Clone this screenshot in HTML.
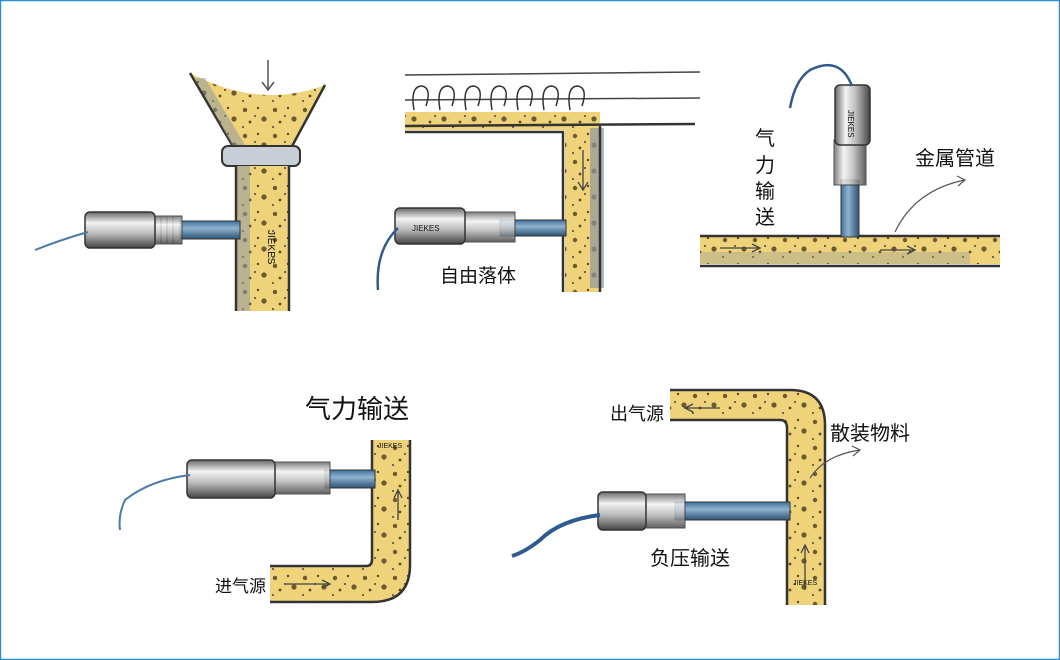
<!DOCTYPE html>
<html><head><meta charset="utf-8"><style>
html,body{margin:0;padding:0;background:#fff}
svg{display:block}
text{font-family:"Liberation Sans","Noto Sans CJK SC",sans-serif;fill:#111}
</style></head><body>
<svg width="1060" height="660" viewBox="0 0 1060 660" xmlns="http://www.w3.org/2000/svg">
<defs>
<linearGradient id="sv" x1="0" y1="0" x2="0" y2="1">
<stop offset="0" stop-color="#666"/><stop offset=".3" stop-color="#f2f2f2"/><stop offset=".6" stop-color="#bbb"/><stop offset="1" stop-color="#444"/></linearGradient>
<linearGradient id="svv" x1="0" y1="0" x2="1" y2="0">
<stop offset="0" stop-color="#666"/><stop offset=".3" stop-color="#f2f2f2"/><stop offset=".6" stop-color="#bbb"/><stop offset="1" stop-color="#444"/></linearGradient>
<linearGradient id="bl" x1="0" y1="0" x2="0" y2="1"><stop offset="0" stop-color="#3f6f9a"/><stop offset=".4" stop-color="#8fb3d0"/><stop offset="1" stop-color="#2c5272"/></linearGradient>
<linearGradient id="blv" x1="0" y1="0" x2="1" y2="0"><stop offset="0" stop-color="#3f6f9a"/><stop offset=".4" stop-color="#8fb3d0"/><stop offset="1" stop-color="#2c5272"/></linearGradient>
<pattern id="dots" width="30" height="26" patternUnits="userSpaceOnUse">
<rect width="30" height="26" fill="#efd37a"/>
<circle cx="5" cy="6" r="2.2" fill="#6b5a30"/><circle cx="18" cy="4" r="1.2" fill="#5a4a28"/><circle cx="24" cy="15" r="2.6" fill="#6b5a30"/><circle cx="10" cy="18" r="1.4" fill="#5a4a28"/><circle cx="15" cy="12" r="1" fill="#444"/><circle cx="3" cy="23" r="1" fill="#444"/>
</pattern>
</defs>
<rect x="0.5" y="0.5" width="1059" height="659" fill="#fff" stroke="#2a8fd8" stroke-width="1.5"/>

<!-- 1 funnel -->
<path d="M190 73 Q260 110 325 85 L290 150 L235 150 Z" fill="url(#dots)"/>
<path d="M190 73 L235 150 M325 85 L290 150" stroke="#333" stroke-width="2.5" fill="none"/>
<path d="M195 78 L232 145 L245 145 L205 78Z" fill="#8a93a0" opacity=".5"/>
<path d="M268 60 L268 90 M262 82 L268 90 L274 82" stroke="#555" stroke-width="1.5" fill="none"/>
<rect x="222" y="146" width="78" height="20" rx="6" fill="#c8ced6" stroke="#333" stroke-width="2"/>
<rect x="236" y="166" width="53" height="145" fill="url(#dots)"/>
<rect x="236" y="166" width="14" height="145" fill="#8f97a0" opacity=".55"/>
<path d="M236 166 L236 311 M289 166 L289 311" stroke="#333" stroke-width="2.5"/>
<text x="268" y="230" font-size="10" transform="rotate(90 268 230)">JIEKES</text>
<rect x="180" y="221" width="60" height="18" fill="url(#bl)" stroke="#333"/>
<g fill="none" stroke="#444" stroke-width="1.2"><path d="M155 217 v26 M161 217 v26 M167 217 v26 M173 217 v26"/></g>
<rect x="150" y="216" width="32" height="28" fill="url(#sv)" stroke="#333" opacity=".85"/>
<rect x="85" y="212" width="70" height="36" rx="5" fill="url(#sv)" stroke="#333" stroke-width="1.5"/>
<path d="M88 232 Q60 240 35 250" stroke="#4a7aa8" stroke-width="2" fill="none"/>

<!-- 2 free fall -->
<path d="M405 75 L700 72 M405 100 L700 98" stroke="#444" stroke-width="1.5"/>
<g fill="none" stroke="#333" stroke-width="1.5">
<path d="M414 110 Q410 86 422 86 Q432 88 426 106"/><path d="M440 110 Q436 86 448 86 Q458 88 452 106"/><path d="M466 110 Q462 86 474 86 Q484 88 478 106"/><path d="M492 110 Q488 86 500 86 Q510 88 504 106"/><path d="M518 110 Q514 86 526 86 Q536 88 530 106"/><path d="M544 110 Q540 86 552 86 Q562 88 556 106"/><path d="M570 110 Q566 86 578 86 Q588 88 582 106"/></g>
<rect x="405" y="112" width="190" height="18" fill="url(#dots)"/>
<rect x="565" y="112" width="35" height="180" fill="url(#dots)"/>
<rect x="590" y="128" width="14" height="160" fill="#8f97a0" opacity=".7"/>
<path d="M405 126 L695 124" stroke="#333" stroke-width="2.5"/>
<path d="M405 132 L563 132 L563 292 M600 126 L600 292" stroke="#333" stroke-width="2.5" fill="none"/>
<path d="M583 150 L583 190 M578 182 L583 190 L588 182" stroke="#444" stroke-width="1.3" fill="none"/>
<rect x="500" y="220" width="66" height="16" fill="url(#bl)" stroke="#333"/>
<rect x="460" y="212" width="55" height="30" fill="url(#sv)" stroke="#333" opacity=".85"/>
<rect x="395" y="208" width="70" height="36" rx="5" fill="url(#sv)" stroke="#333" stroke-width="1.5"/>
<text x="412" y="231" font-size="8">JIEKES</text>
<path d="M398 228 Q375 250 378 290" stroke="#2f5a90" stroke-width="2.5" fill="none"/>
<text x="440" y="282" font-size="19">自由落体</text>

<!-- 3 metal pipe -->
<rect x="700" y="236" width="300" height="28" fill="url(#dots)"/>
<rect x="700" y="252" width="270" height="12" fill="#8f97a0" opacity=".35"/>
<path d="M700 236 L1000 236 M700 266 L1000 266" stroke="#333" stroke-width="2.5"/>
<path d="M720 248 L760 248 M752 244 L760 248 L752 252 M880 250 L915 250 M907 246 L915 250 L907 254" stroke="#444" stroke-width="1.3" fill="none"/>
<rect x="841" y="180" width="18" height="57" fill="url(#blv)" stroke="#333"/>
<rect x="834" y="140" width="32" height="45" fill="url(#svv)" stroke="#333" opacity=".85"/>
<rect x="835" y="85" width="35" height="60" rx="5" fill="url(#svv)" stroke="#333" stroke-width="1.5"/>
<text x="848" y="110" font-size="8" transform="rotate(90 848 110)">JIEKES</text>
<path d="M852 86 Q840 55 810 70 Q795 80 790 108" stroke="#2f5a90" stroke-width="2.5" fill="none"/>
<text x="755" y="145" font-size="20">气</text><text x="755" y="172" font-size="20">力</text><text x="755" y="198" font-size="20">输</text><text x="755" y="224" font-size="20">送</text>
<text x="915" y="165" font-size="20">金属管道</text>
<path d="M895 232 Q915 190 965 180 M957 176 L965 180 L958 186" stroke="#555" stroke-width="1.2" fill="none"/>

<!-- 4 pneumatic -->
<text x="305" y="418" font-size="26">气力输送</text>
<path d="M372 440 L410 440 L410 565 Q410 602 372 602 L270 602 L270 566 L372 566 Z" fill="url(#dots)"/>
<path d="M372 440 L372 560 Q372 566 366 566 L270 566 M410 440 L410 565 Q410 602 372 602 L270 602" stroke="#333" stroke-width="2.5" fill="none"/>
<text x="378" y="448" font-size="7">JIEKES</text>
<path d="M398 520 L398 490 M394 498 L398 490 L402 498 M285 584 L330 584 M322 580 L330 584 L322 588" stroke="#444" stroke-width="1.3" fill="none"/>
<rect x="325" y="470" width="50" height="18" fill="url(#bl)" stroke="#333"/>
<rect x="270" y="462" width="60" height="32" fill="url(#sv)" stroke="#333" opacity=".85"/>
<rect x="187" y="460" width="88" height="38" rx="5" fill="url(#sv)" stroke="#333" stroke-width="1.5"/>
<path d="M190 475 Q150 480 125 500 Q118 515 120 530" stroke="#4a7aa8" stroke-width="2" fill="none"/>
<text x="215" y="592" font-size="17">进气源</text>

<!-- 5 negative pressure -->
<path d="M670 390 L790 390 Q825 390 825 425 L825 605 L787 605 L787 428 Q787 420 780 420 L670 420 Z" fill="url(#dots)"/>
<path d="M670 390 L790 390 Q825 390 825 425 L825 605 M670 420 L780 420 Q787 420 787 428 L787 605" stroke="#333" stroke-width="2.5" fill="none"/>
<path d="M720 408 L685 408 M693 404 L685 408 L693 412 M805 590 L805 545 M801 553 L805 545 L809 553" stroke="#444" stroke-width="1.3" fill="none"/>
<text x="793" y="585" font-size="7">JIEKES</text>
<rect x="675" y="502" width="115" height="18" fill="url(#bl)" stroke="#333"/>
<rect x="640" y="494" width="45" height="34" fill="url(#sv)" stroke="#333" opacity=".85"/>
<rect x="598" y="492" width="48" height="38" rx="5" fill="url(#sv)" stroke="#333" stroke-width="1.5"/>
<path d="M600 515 Q560 520 540 540 Q525 552 512 556" stroke="#2f5a90" stroke-width="4" fill="none"/>
<text x="610" y="420" font-size="18">出气源</text>
<text x="830" y="440" font-size="20">散装物料</text>
<path d="M810 478 Q825 455 860 450 M852 446 L860 450 L853 456" stroke="#555" stroke-width="1.2" fill="none"/>
<text x="650" y="565" font-size="20">负压输送</text>
</svg>
</body></html>
